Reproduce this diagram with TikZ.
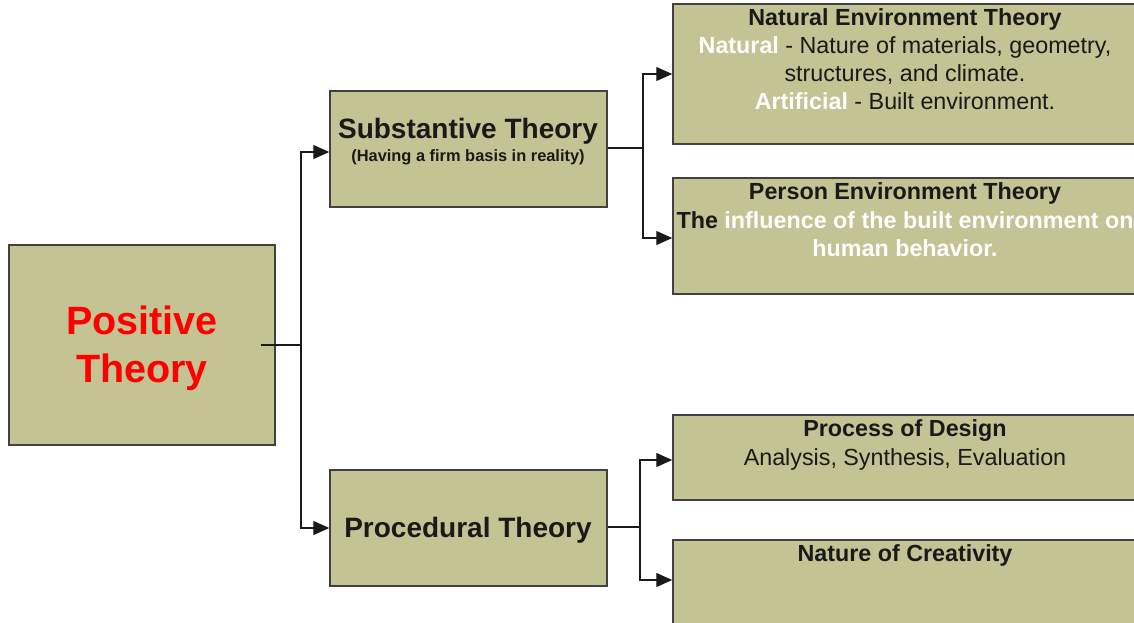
\documentclass[tikz,border=0pt]{standalone}
\usepackage{fontspec}
\setmainfont{Liberation Sans}
\usetikzlibrary{arrows.meta}
\definecolor{boxfill}{RGB}{195,195,148}
\definecolor{boxline}{RGB}{64,64,64}
\definecolor{txt}{RGB}{26,26,26}
\begin{document}
\begin{tikzpicture}[x=1pt,y=-1pt,
  tbox/.style={draw=boxline,fill=boxfill,line width=1.5pt,inner sep=0pt},
  conn/.style={draw=txt,line width=1.3pt},
  arr/.style={conn,-{Triangle[length=16pt,width=14pt]}},
  bigt/.style={inner sep=0pt,align=center,font=\fontsize{39.5}{48}\selectfont\bfseries,text=red},
  midt/.style={inner sep=0pt,align=center,font=\fontsize{28}{34}\selectfont\bfseries,text=txt},
  smallt/.style={inner sep=0pt,align=center,font=\fontsize{16.4}{19}\selectfont\bfseries,text=txt},
  rt/.style={inner sep=0pt,align=center,font=\fontsize{23.3}{28}\selectfont,text=txt},
  rtb/.style={rt,font=\fontsize{23.3}{28}\selectfont\bfseries}]
\clip (0,0) rectangle (1134,622);
% boxes
\node[tbox,minimum width=266pt,minimum height=200pt] (pos) at (142,345) {};
\node[tbox,minimum width=277pt,minimum height=116pt] (sub) at (468.5,149) {};
\node[tbox,minimum width=277pt,minimum height=116pt] (pro) at (468.5,528) {};
\node[tbox,minimum width=462pt,minimum height=140pt] (nat) at (904,74) {};
\node[tbox,minimum width=462pt,minimum height=116pt] (per) at (904,236) {};
\node[tbox,minimum width=462pt,minimum height=85pt] (des) at (904,457.5) {};
\node[tbox,minimum width=462pt,minimum height=120pt] (cre) at (904,600) {};
% texts
\node[bigt] (post) at (142,348) {Positive\\Theory};
\node[midt] (subt) at (468,131) {Substantive Theory};
\node[smallt] (subs) at (468,157) {(Having a firm basis in reality)};
\node[midt] (prot) at (468,530) {Procedural Theory};
\node[rtb] (natt) at (905,19) {Natural Environment Theory};
\node[rt] (natb) at (905,73.5) {\textbf{\color{white}Natural} - Nature of materials, geometry,\\structures, and climate.\\\textbf{\color{white}Artificial} - Built environment.};
\node[rtb] (pert) at (905,193) {Person Environment Theory};
\node[rtb] (perb) at (905,234.5) {The \color{white}influence of the built environment on\\\color{white}human behavior.};
\node[rtb] (dest) at (905,431) {Process of Design};
\node[rt] (desb) at (905,459) {Analysis, Synthesis, Evaluation};
\node[rtb] (cret) at (905,555) {Nature of Creativity};
% connectors
\coordinate (j1) at (301,345);
\coordinate (s1) at ([xshift=-15pt]pos.east);
\draw[conn] (s1) -- (j1);
\draw[arr] (j1) |- ([yshift=-3pt]sub.west);
\draw[arr] (j1) |- (pro.west);
\coordinate (j2) at (643,148);
\draw[conn] (sub.east |- j2) -- (j2);
\draw[arr] (j2) |- (nat.west);
\draw[arr] (j2) |- ([yshift=-2pt]per.west);
\coordinate (j3) at (640,527);
\draw[conn] (pro.east |- j3) -- (j3);
\draw[arr] (j3) |- ([yshift=-2.5pt]des.west);
\draw[arr] (j3) |- (cre.west |- 0,580);
\end{tikzpicture}
\end{document}
